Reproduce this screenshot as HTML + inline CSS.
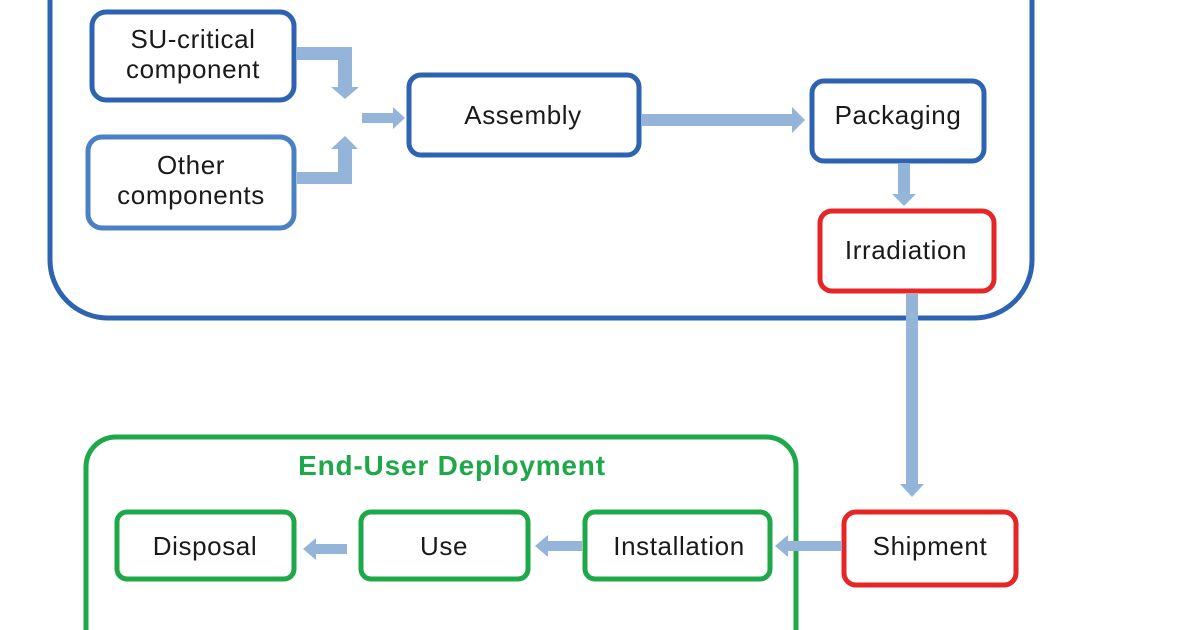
<!DOCTYPE html>
<html><head><meta charset="utf-8"><style>
html,body{margin:0;padding:0;background:#fff;width:1200px;height:630px;overflow:hidden;}
svg{display:block}
text{font-family:"Liberation Sans",sans-serif;font-size:26px;letter-spacing:0.6px;fill:#1a1a1a;text-anchor:middle}
</style></head><body>
<svg width="1200" height="630" viewBox="0 0 1200 630">
<g fill="none" stroke-width="5">
<rect x="50" y="-60" width="982" height="378" rx="58" stroke="#2e63b1"/>
<rect x="86" y="437" width="710" height="230" rx="30" stroke="#1fa84a"/>
<rect x="92" y="12" width="202" height="88" rx="14" stroke="#2e63b1"/>
<rect x="88" y="137" width="206" height="91" rx="14" stroke="#4a80c4"/>
<rect x="409" y="75" width="230" height="80" rx="12" stroke="#2e63b1"/>
<rect x="812" y="81" width="172" height="80" rx="12" stroke="#2e63b1"/>
<rect x="820" y="211" width="174" height="80" rx="12" stroke="#e42626"/>
<rect x="844" y="512" width="172" height="73" rx="12" stroke="#e42626"/>
<rect x="117" y="512" width="177" height="67" rx="10" stroke="#1fa84a"/>
<rect x="361" y="512" width="167" height="67" rx="10" stroke="#1fa84a"/>
<rect x="585" y="512" width="185" height="67" rx="10" stroke="#1fa84a"/>
</g>
<g fill="#94b4d9">
<polygon points="297,47 352,47 352,87 359,87 345,99 331,87 338,87 338,60 297,60"/>
<polygon points="297,184 352,184 352,149 358,149 345,136 331,149 338,149 338,172 297,172"/>
<polygon points="362,113 393,113 393,107 405,118 393,129 393,123 362,123"/>
<polygon points="641,114 792,114 792,107 805,120 792,133 792,126 641,126"/>
<polygon points="898,163 910,163 910,194 916,194 904,206 892,194 898,194"/>
<polygon points="906,294 918,294 918,484 924,484 912,497 900,484 906,484"/>
<polygon points="842,541 788,541 788,535 775,546 788,557 788,551 842,551"/>
<polygon points="582,541 548,541 548,535 535,546 548,557 548,551 582,551"/>
<polygon points="347,544 316,544 316,538 303,549 316,560 316,554 347,554"/>
</g>
<text x="193" y="48">SU-critical</text>
<text x="193" y="78">component</text>
<text x="191" y="174">Other</text>
<text x="191" y="204">components</text>
<text x="523" y="124">Assembly</text>
<text x="898" y="124">Packaging</text>
<text x="906" y="259">Irradiation</text>
<text x="930" y="555">Shipment</text>
<text x="205" y="555">Disposal</text>
<text x="444" y="555">Use</text>
<text x="679" y="555">Installation</text>
<text x="452" y="475" style="font-weight:bold;fill:#1fa84a;font-size:28px;letter-spacing:0.8px">End-User Deployment</text>
</svg>
</body></html>
